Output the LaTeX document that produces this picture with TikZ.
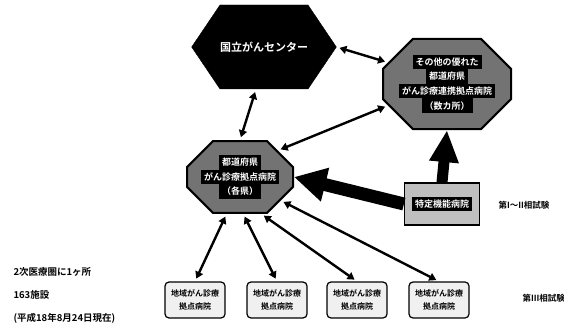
\documentclass[tikz,border=0pt]{standalone}
\usepackage{fontspec}
\newfontfamily\jpfont{Noto Sans CJK JP}[BoldFont={Noto Sans CJK JP Bold}]
\usetikzlibrary{shapes.misc,shapes.symbols,arrows.meta}
\newcommand{\darkline}[1]{\colorbox{black}{\textcolor{white}{\bfseries #1}}}
\tikzset{
  hub/.style={signal, signal to=west and east, signal pointer angle=112,
    fill=black, draw=black, inner sep=0pt, text=white,
    minimum width=128pt, minimum height=84pt,
    font=\jpfont\bfseries\fontsize{11}{13}\selectfont},
  octa/.style={chamfered rectangle, chamfered rectangle xsep=15pt,
    chamfered rectangle ysep=15pt, draw=black, line width=2pt,
    fill=black!55, inner sep=1pt, align=center,
    font=\jpfont\fontsize{9}{10.5}\selectfont},
  grayblock/.style={rectangle, draw=black, line width=1.2pt, fill=black!25,
    inner sep=1pt, minimum width=75pt, minimum height=42pt,
    font=\jpfont\fontsize{9}{10}\selectfont},
  localbox/.style={rectangle, rounded corners=4pt, draw=black, line width=1.2pt,
    fill=black!6, minimum width=60pt, minimum height=36pt, align=center,
    font=\jpfont\bfseries\fontsize{8}{13}\selectfont},
  note/.style={font=\jpfont\bfseries\fontsize{9.5}{11}\selectfont, anchor=west},
  phase/.style={font=\jpfont\bfseries\fontsize{8.5}{10}\selectfont, anchor=west},
  link/.style={line width=2.4pt, {Triangle[length=7pt,width=8pt]}-{Triangle[length=7pt,width=8pt]}, shorten <=3pt, shorten >=3pt},
  bigarrow/.style={line width=#1, -{Triangle[length=32pt,width=2.5*#1]}},
}
\begin{document}
\begin{tikzpicture}[x=1pt,y=-1pt]
\useasboundingbox (0,0) rectangle (564,328);

% centre and its partners
\node[hub] (ncc) at (264,47) {国立がんセンター};
\node[octa, minimum width=115pt, minimum height=78pt] (excel) at (447,84)
  {\darkline{その他の優れた}\\[-1pt]\darkline{都道府県}\\[-1pt]\darkline{がん診療連携拠点病院}\\[-1pt]\darkline{（数カ所）}};
\node[octa, chamfered rectangle xsep=13pt, chamfered rectangle ysep=13pt,
  minimum width=80pt, minimum height=70pt] (pref) at (240,177)
  {\darkline{都道府県}\\[-1pt]\darkline{がん診療拠点病院}\\[-1pt]\darkline{（各県）}};
\node[grayblock] (special) at (442,204) {\darkline{特定機能病院}};

% local hospitals
\node[localbox] (loc1) at (195,300) {地域がん診療\\拠点病院};
\node[localbox] (loc2) at (277,300) {地域がん診療\\拠点病院};
\node[localbox] (loc3) at (357,300) {地域がん診療\\拠点病院};
\node[localbox] (loc4) at (439,300) {地域がん診療\\拠点病院};

% phase labels and notes
\node[phase] (ph12) at (495,205) {第I〜II相試験};
\node[phase] (ph3) at (519,298) {第III相試験};
\node[note] (n1) at (10,272) {2次医療圏に1ヶ所};
\node[note] (n2) at (10,295) {163施設};
\node[note] (n3) at (10,318) {(平成18年8月24日現在)};

% two-way links
\draw[link] (ncc.east) -- (excel.160);
\draw[link] (ncc.south) ++(-8pt,0) coordinate (nccb) (nccb) -- (pref.north);
\draw[link] (pref.35) -- (excel.200);
\draw[link] (pref.250) -- (loc1.north);
\draw[link] (pref.275) -- (loc2.north);
\draw[link] (pref.300) -- (loc3.north);
\draw[link] (pref.330) -- (loc4.north);

% heavy arrows from the specific hospital
\draw[bigarrow=13pt] (special.west) -- (pref.east);
\draw[bigarrow=11pt] (special.north) -- (excel.south);
\end{tikzpicture}
\end{document}
